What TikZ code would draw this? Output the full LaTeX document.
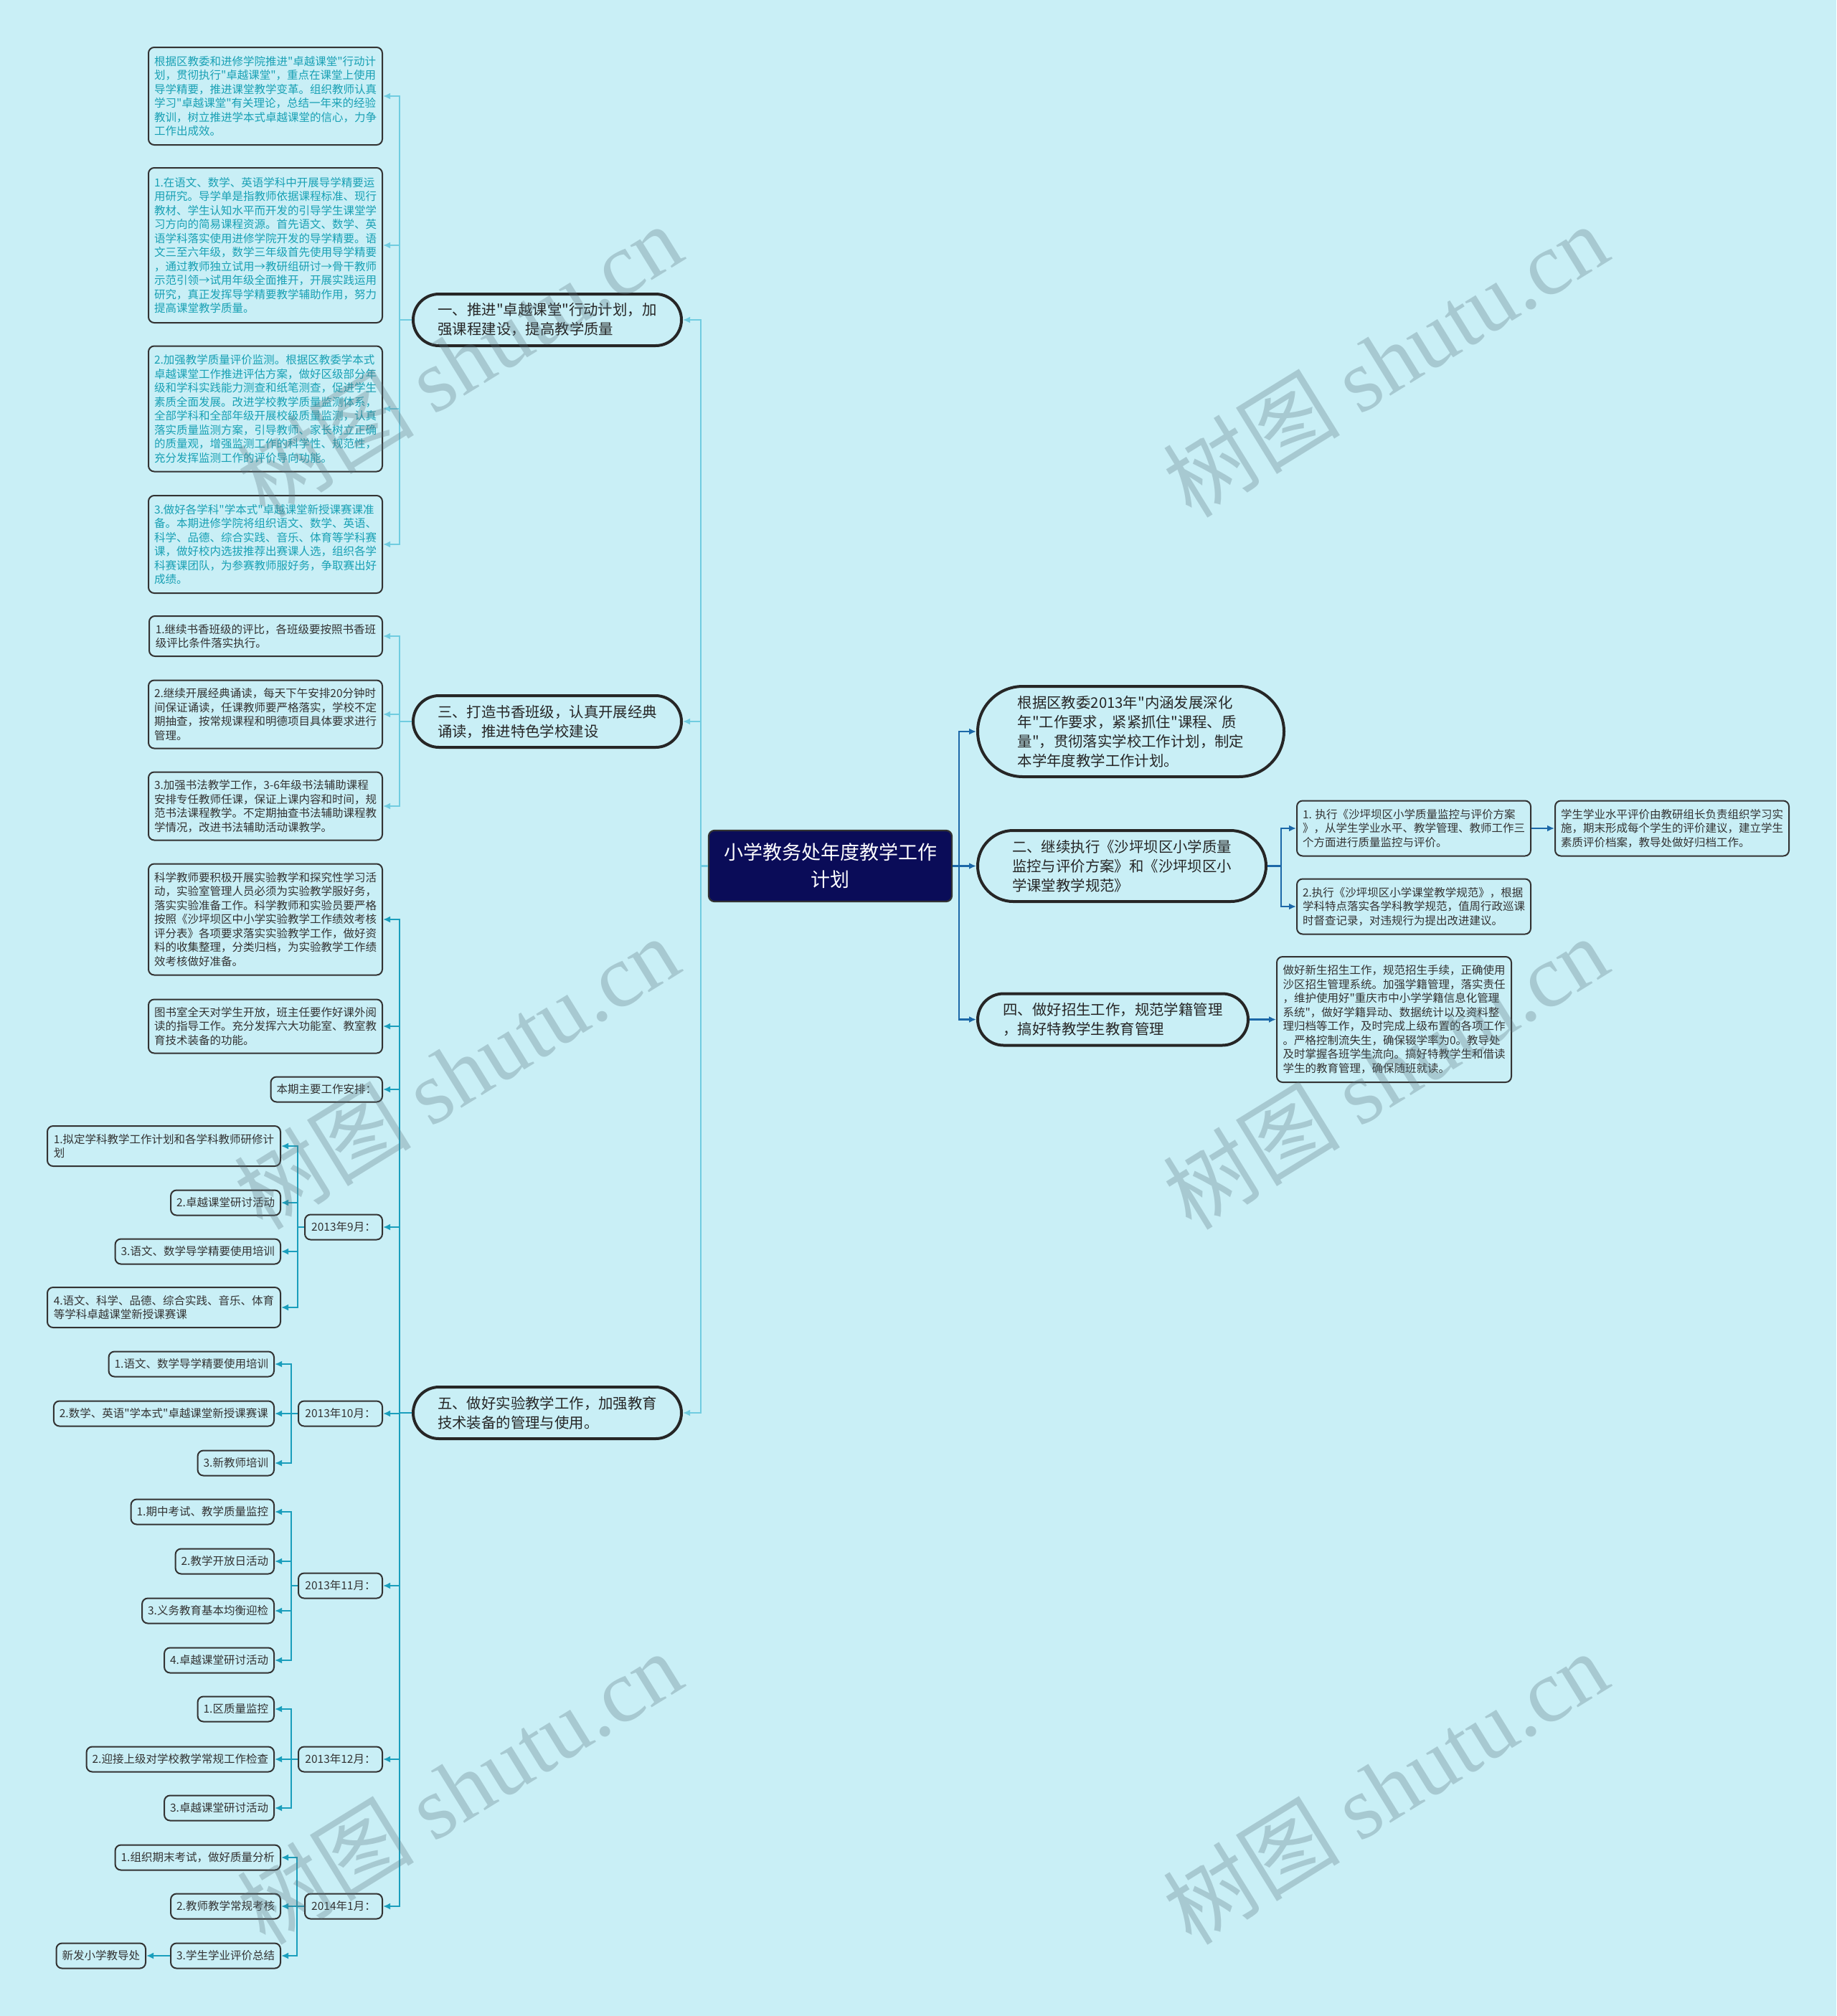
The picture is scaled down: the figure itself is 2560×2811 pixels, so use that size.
\documentclass[tikz,border=0pt]{standalone}
\usepackage{fontspec}
\setmainfont{Noto Sans CJK SC}[Ligatures=TeXOff]
\newfontfamily\wmfont{Liberation Serif}
\usetikzlibrary{positioning,shapes.misc,arrows.meta}

\definecolor{bgcol}{RGB}{201,239,246}
\definecolor{rootblue}{RGB}{10,12,88}
\definecolor{rightline}{RGB}{28,104,168}
\definecolor{lightline}{RGB}{112,204,224}
\definecolor{darkline}{RGB}{26,158,188}
\definecolor{tealtext}{RGB}{24,160,180}
\definecolor{wmcol}{RGB}{90,115,125}

\newcommand*{\rootfont}{\fontsize{13.5}{19}\selectfont}
\newcommand*{\branchfont}{\fontsize{10.2}{13.5}\selectfont}
\newcommand*{\leaffont}{\fontsize{7.75}{9.75}\selectfont}

\begin{document}
\begin{tikzpicture}[x=0.5pt, y=-0.5pt, line width=1.1pt, >={Latex[length=5pt,width=4.5pt]},
    rootbox/.style={draw=black!80, fill=rootblue, text=white, rounded corners=4pt, align=center,
        font=\rootfont, minimum width=169.5pt, minimum height=49.5pt},
    pillbox/.style={rounded rectangle, draw=black!85, line width=2pt, fill=bgcol, text=black!85,
        align=left, font=\branchfont, inner xsep=2pt, minimum width=191pt, minimum height=36pt},
    itembox/.style={draw=black!80, line width=1pt, rounded corners=4pt, fill=bgcol, text=black!80,
        align=left, font=\leaffont, inner xsep=4pt, minimum height=17.5pt},
    lightlink/.style={draw=lightline, ->},
    darklink/.style={draw=darkline, ->},
    rightlink/.style={draw=rightline, ->},
    wmark/.style={rotate=31.7, text=wmcol, text opacity=0.3, font=\fontsize{62}{62}\selectfont}]
    \useasboundingbox (0,0) rectangle (2560,2811);
    \fill[bgcol] (0,0) rectangle (2560,2811);

    \node[rootbox] (plan) at (1157.5,1207.5) {小学教务处年度教学工作\\计划};

    % right side
    \coordinate (rspine) at (1337,0);
    \coordinate (qspine) at (1786,0);
    \node[pillbox, anchor=west, minimum width=217.5pt, minimum height=63pt] (basis) at (1361,1020)
        {根据区教委2013年"内涵发展深化\\年"工作要求，紧紧抓住"课程、质\\量"，贯彻落实学校工作计划，制定\\本学年度教学工作计划。};
    \node[pillbox, anchor=west, minimum width=205pt, minimum height=49.5pt] (quality) at (1361,1207.5)
        {二、继续执行《沙坪坝区小学质量\\监控与评价方案》和《沙坪坝区小\\学课堂教学规范》};
    \node[pillbox, anchor=west, minimum width=192.5pt] (enrol) at (1361,1421.5)
        {四、做好招生工作，规范学籍管理\\，搞好特教学生教育管理};

    \node[itembox, anchor=west, minimum width=162.5pt, minimum height=38.5pt] (qualitya) at (1807,1155)
        {1. 执行《沙坪坝区小学质量监控与评价方案\\》，从学生学业水平、教学管理、教师工作三\\个方面进行质量监控与评价。};
    \node[itembox, anchor=west, minimum width=162.5pt, minimum height=38.5pt] (qualityb) at (1807,1264)
        {2.执行《沙坪坝区小学课堂教学规范》，根据\\学科特点落实各学科教学规范，值周行政巡课\\时督查记录，对违规行为提出改进建议。};
    \node[itembox, anchor=west, minimum width=162.5pt, minimum height=38.5pt] (qualityc) at (2167,1155)
        {学生学业水平评价由教研组长负责组织学习实\\施，期末形成每个学生的评价建议，建立学生\\素质评价档案，教导处做好归档工作。};
    \node[itembox, anchor=west, minimum width=163.5pt, minimum height=87.5pt] (enrola) at (1779,1421.5)
        {做好新生招生工作，规范招生手续，正确使用\\沙区招生管理系统。加强学籍管理，落实责任\\，维护使用好"重庆市中小学学籍信息化管理\\系统"，做好学籍异动、数据统计以及资料整\\理归档等工作，及时完成上级布置的各项工作\\。严格控制流失生，确保辍学率为0。教导处\\及时掌握各班学生流向。搞好特教学生和借读\\学生的教育管理，确保随班就读。};

    % left side
    \coordinate (lspine) at (977,0);
    \coordinate (cspine) at (557,0);
    \node[pillbox, anchor=east] (classroom) at (952,446) {一、推进"卓越课堂"行动计划，加\\强课程建设，提高教学质量};
    \node[pillbox, anchor=east] (reading) at (952,1006) {三、打造书香班级，认真开展经典\\诵读，推进特色学校建设};
    \node[pillbox, anchor=east] (lab) at (952,1970) {五、做好实验教学工作，加强教育\\技术装备的管理与使用。};

    \node[itembox, text=tealtext, anchor=east, minimum width=162.5pt, minimum height=68pt] (classrooma) at (534,134)
        {根据区教委和进修学院推进"卓越课堂"行动计\\划，贯彻执行"卓越课堂"，重点在课堂上使用\\导学精要，推进课堂教学变革。组织教师认真\\学习"卓越课堂"有关理论，总结一年来的经验\\教训，树立推进学本式卓越课堂的信心，力争\\工作出成效。};
    \node[itembox, text=tealtext, anchor=east, minimum width=162.5pt, minimum height=108pt] (classroomb) at (534,342)
        {1.在语文、数学、英语学科中开展导学精要运\\用研究。导学单是指教师依据课程标准、现行\\教材、学生认知水平而开发的引导学生课堂学\\习方向的简易课程资源。首先语文、数学、英\\语学科落实使用进修学院开发的导学精要。语\\文三至六年级，数学三年级首先使用导学精要\\，通过教师独立试用→教研组研讨→骨干教师\\示范引领→试用年级全面推开，开展实践运用\\研究，真正发挥导学精要教学辅助作用，努力\\提高课堂教学质量。};
    \node[itembox, text=tealtext, anchor=east, minimum width=162.5pt, minimum height=87.5pt] (classroomc) at (534,570)
        {2.加强教学质量评价监测。根据区教委学本式\\卓越课堂工作推进评估方案，做好区级部分年\\级和学科实践能力测查和纸笔测查，促进学生\\素质全面发展。改进学校教学质量监测体系，\\全部学科和全部年级开展校级质量监测，认真\\落实质量监测方案，引导教师、家长树立正确\\的质量观，增强监测工作的科学性、规范性，\\充分发挥监测工作的评价导向功能。};
    \node[itembox, text=tealtext, anchor=east, minimum width=162.5pt, minimum height=68pt] (classroomd) at (534,759)
        {3.做好各学科"学本式"卓越课堂新授课赛课准\\备。本期进修学院将组织语文、数学、英语、\\科学、品德、综合实践、音乐、体育等学科赛\\课，做好校内选拔推荐出赛课人选，组织各学\\科赛课团队，为参赛教师服好务，争取赛出好\\成绩。};

    \node[itembox, anchor=east, minimum width=162.5pt, minimum height=28pt] (readinga) at (534,887)
        {1.继续书香班级的评比，各班级要按照书香班\\级评比条件落实执行。};
    \node[itembox, anchor=east, minimum width=162.5pt, minimum height=47.5pt] (readingb) at (534,996)
        {2.继续开展经典诵读，每天下午安排20分钟时\\间保证诵读，任课教师要严格落实，学校不定\\期抽查，按常规课程和明德项目具体要求进行\\管理。};
    \node[itembox, anchor=east, minimum width=162.5pt, minimum height=47.5pt] (readingc) at (534,1124)
        {3.加强书法教学工作，3-6年级书法辅助课程\\安排专任教师任课，保证上课内容和时间，规\\范书法课程教学。不定期抽查书法辅助课程教\\学情况，改进书法辅助活动课教学。};

    \node[itembox, anchor=east, minimum width=162.5pt, minimum height=77.5pt] (laba) at (534,1282)
        {科学教师要积极开展实验教学和探究性学习活\\动，实验室管理人员必须为实验教学服好务，\\落实实验准备工作。科学教师和实验员要严格\\按照《沙坪坝区中小学实验教学工作绩效考核\\评分表》各项要求落实实验教学工作，做好资\\料的收集整理，分类归档，为实验教学工作绩\\效考核做好准备。};
    \node[itembox, anchor=east, minimum width=162.5pt, minimum height=37.5pt] (labb) at (534,1431)
        {图书室全天对学生开放，班主任要作好课外阅\\读的指导工作。充分发挥六大功能室、教室教\\育技术装备的功能。};
    \node[itembox, anchor=east, minimum width=77.5pt] (plans) at (534,1519) {本期主要工作安排：};

    % months
    \node[itembox, anchor=east, minimum width=54pt] (sep) at (534,1711) {2013年9月：};
    \node[itembox, anchor=east, minimum width=58.5pt] (oct) at (534,1971) {2013年10月：};
    \node[itembox, anchor=east, minimum width=58.5pt] (nov) at (534,2211) {2013年11月：};
    \node[itembox, anchor=east, minimum width=58.5pt] (dec) at (534,2453) {2013年12月：};
    \node[itembox, anchor=east, minimum width=54pt] (jan) at (534,2658) {2014年1月：};

    \coordinate (sepspine) at (415,0);
    \coordinate (midspine) at (406,0);
    \coordinate (janspine) at (414,0);

    \node[itembox, anchor=east, minimum width=162.5pt, minimum height=28pt] (sepa) at (392,1598) {1.拟定学科教学工作计划和各学科教师研修计\\划};
    \node[itembox, anchor=east] (sepb) at (392,1677) {2.卓越课堂研讨活动};
    \node[itembox, anchor=east] (sepc) at (392,1745) {3.语文、数学导学精要使用培训};
    \node[itembox, anchor=east, minimum width=162.5pt, minimum height=28pt] (sepd) at (392,1823) {4.语文、科学、品德、综合实践、音乐、体育\\等学科卓越课堂新授课赛课};

    \node[itembox, anchor=east] (octa) at (383,1902) {1.语文、数学导学精要使用培训};
    \node[itembox, anchor=east] (octb) at (383,1971) {2.数学、英语"学本式"卓越课堂新授课赛课};
    \node[itembox, anchor=east] (octc) at (383,2040) {3.新教师培训};

    \node[itembox, anchor=east] (nova) at (383,2108) {1.期中考试、教学质量监控};
    \node[itembox, anchor=east] (novb) at (383,2177) {2.教学开放日活动};
    \node[itembox, anchor=east] (novc) at (383,2246) {3.义务教育基本均衡迎检};
    \node[itembox, anchor=east] (novd) at (383,2315) {4.卓越课堂研讨活动};

    \node[itembox, anchor=east] (deca) at (383,2383) {1.区质量监控};
    \node[itembox, anchor=east] (decb) at (383,2453) {2.迎接上级对学校教学常规工作检查};
    \node[itembox, anchor=east] (decc) at (383,2521) {3.卓越课堂研讨活动};

    \node[itembox, anchor=east] (jana) at (392,2590) {1.组织期末考试，做好质量分析};
    \node[itembox, anchor=east] (janb) at (392,2658) {2.教师教学常规考核};
    \node[itembox, anchor=east] (janc) at (392,2727) {3.学生学业评价总结};
    \node[itembox, anchor=east] (office) at (204,2727) {新发小学教导处};

    % connectors
    \foreach \k in {basis,quality,enrol}
        \draw[rightlink] (plan.east) -- (plan.east -| rspine) |- (\k.west);
    \foreach \k in {qualitya,qualityb}
        \draw[rightlink] (quality.east) -- (quality.east -| qspine) |- (\k.west);
    \draw[rightlink] (qualitya.east) -- (qualityc.west);
    \draw[rightlink] (enrol.east) -- (enrola.west);

    \foreach \k in {classroom,reading,lab}
        \draw[lightlink] (plan.west) -- (plan.west -| lspine) |- (\k.east);
    \foreach \k in {classrooma,classroomb,classroomc,classroomd}
        \draw[lightlink] (classroom.west) -- (classroom.west -| cspine) |- (\k.east);
    \foreach \k in {readinga,readingb,readingc}
        \draw[lightlink] (reading.west) -- (reading.west -| cspine) |- (\k.east);
    \foreach \k in {laba,labb,plans,sep,oct,nov,dec,jan}
        \draw[darklink] (lab.west) -- (lab.west -| cspine) |- (\k.east);

    \foreach \k in {sepa,sepb,sepc,sepd}
        \draw[darklink] (sep.west) -- (sep.west -| sepspine) |- (\k.east);
    \foreach \k in {octa,octb,octc}
        \draw[darklink] (oct.west) -- (oct.west -| midspine) |- (\k.east);
    \foreach \k in {nova,novb,novc,novd}
        \draw[darklink] (nov.west) -- (nov.west -| midspine) |- (\k.east);
    \foreach \k in {deca,decb,decc}
        \draw[darklink] (dec.west) -- (dec.west -| midspine) |- (\k.east);
    \foreach \k in {jana,janb,janc}
        \draw[darklink] (jan.west) -- (jan.west -| janspine) |- (\k.east);
    \draw[darklink] (janc.west) -- (office.east);

    % watermarks
    \foreach \wx/\wy [count=\i] in {640/502,1931/502,636/1495,1931/1495,640/2492,1931/2492}
        \node[wmark] (wm\i) at (\wx,\wy) {树图 {\wmfont shutu.cn}};
\end{tikzpicture}
\end{document}
